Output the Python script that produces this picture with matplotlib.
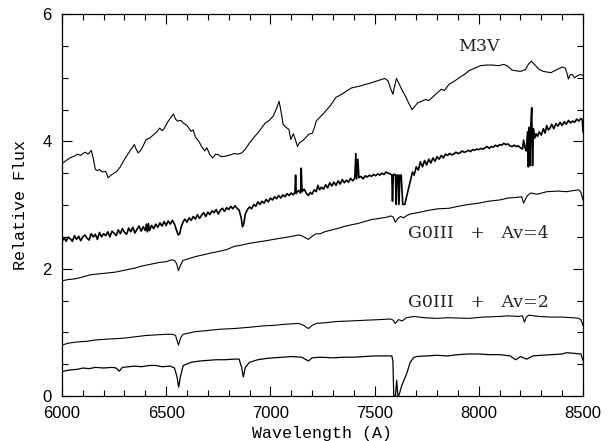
import matplotlib
matplotlib.use("Agg")
import matplotlib.pyplot as plt
from matplotlib.ticker import MultipleLocator

# ---- data ----
m3v_wl = [6000, 6020, 6038, 6060, 6075, 6090, 6100, 6113, 6125, 6141, 6152, 6160, 6170, 6180,
          6188, 6200, 6210, 6221, 6240, 6263, 6280, 6300, 6320, 6347, 6357, 6366, 6375, 6385,
          6404, 6420, 6441, 6455, 6469, 6480, 6488, 6510, 6535, 6545, 6554, 6570, 6582, 6600,
          6619, 6630, 6640, 6657, 6670, 6685, 6695, 6710, 6723, 6737, 6751, 6765, 6788, 6810,
          6826, 6845, 6863, 6880, 6901, 6920, 6939, 6960, 6976, 6995, 7014, 7030, 7042, 7055,
          7061, 7075, 7089, 7098, 7110, 7117, 7130, 7140, 7154, 7170, 7183, 7201, 7210, 7220,
          7258, 7290, 7314, 7342, 7370, 7389, 7430, 7483, 7520, 7549, 7565, 7577, 7588, 7595,
          7605, 7614, 7633, 7650, 7661, 7680, 7695, 7708, 7725, 7746, 7760, 7783, 7800, 7821,
          7835, 7858, 7880, 7915, 7935, 7952, 7980, 8008, 8040, 8065, 8095, 8121, 8140, 8160,
          8177, 8200, 8224, 8240, 8252, 8270, 8290, 8310, 8346, 8370, 8402, 8415, 8425, 8430,
          8440, 8449, 8460, 8468, 8485, 8500]
m3v_flux = [3.65, 3.70, 3.74, 3.77, 3.80, 3.78, 3.81, 3.83, 3.80, 3.86, 3.70, 3.56, 3.54, 3.56,
            3.53, 3.52, 3.53, 3.43, 3.48, 3.53, 3.60, 3.72, 3.82, 3.95, 3.87, 3.82, 3.85, 3.90,
            4.03, 4.05, 4.11, 4.15, 4.21, 4.17, 4.19, 4.32, 4.43, 4.35, 4.32, 4.33, 4.29, 4.25,
            4.16, 4.18, 4.07, 4.00, 3.92, 3.85, 3.90, 3.79, 3.74, 3.80, 3.79, 3.76, 3.77, 3.79,
            3.81, 3.80, 3.82, 3.88, 3.98, 4.06, 4.13, 4.22, 4.29, 4.33, 4.40, 4.52, 4.63, 4.40,
            4.27, 4.22, 4.19, 4.03, 4.12, 4.06, 3.92, 3.98, 4.01, 4.06, 4.11, 4.13, 4.20, 4.32,
            4.45, 4.57, 4.69, 4.74, 4.80, 4.84, 4.87, 4.92, 4.96, 4.99, 4.95, 4.83, 4.74, 4.85,
            4.99, 4.93, 4.80, 4.70, 4.62, 4.50, 4.56, 4.61, 4.63, 4.66, 4.64, 4.71, 4.76, 4.82,
            4.80, 4.90, 4.94, 5.02, 5.06, 5.11, 5.15, 5.19, 5.20, 5.20, 5.19, 5.21, 5.18, 5.12,
            5.11, 5.10, 5.13, 5.22, 5.26, 5.20, 5.13, 5.10, 5.08, 5.12, 5.17, 5.15, 5.05, 4.98,
            5.05, 5.05, 5.00, 5.02, 5.05, 5.04]

obs_wl = [6000, 6010, 6020, 6030, 6040, 6050, 6060, 6070, 6080, 6090, 6100, 6110, 6120, 6130,
          6140, 6150, 6160, 6170, 6180, 6190, 6200, 6210, 6220, 6230, 6240, 6250, 6260, 6270,
          6280, 6290, 6300, 6310, 6320, 6330, 6340, 6350, 6360, 6370, 6380, 6390, 6400, 6405,
          6410, 6415, 6420, 6430, 6440, 6450, 6460, 6470, 6480, 6490, 6500, 6510, 6520, 6530,
          6540, 6550, 6558, 6565, 6572, 6582, 6590, 6600, 6610, 6620, 6630, 6640, 6650, 6660,
          6670, 6680, 6690, 6700, 6710, 6720, 6730, 6740, 6750, 6760, 6770, 6780, 6790, 6800,
          6810, 6820, 6830, 6840, 6850, 6860, 6866, 6872, 6880, 6890, 6900, 6910, 6920, 6930,
          6940, 6950, 6960, 6970, 6980, 6990, 7000, 7010, 7020, 7030, 7040, 7050, 7060, 7070,
          7080, 7090, 7100, 7110, 7118, 7121, 7124, 7135, 7145, 7148, 7152, 7162, 7172, 7182,
          7192, 7200, 7210, 7220, 7228, 7236, 7245, 7255, 7265, 7275, 7285, 7295, 7305, 7315,
          7325, 7335, 7345, 7355, 7365, 7375, 7385, 7395, 7405, 7410, 7414, 7420, 7425, 7435,
          7445, 7455, 7465, 7475, 7485, 7495, 7505, 7515, 7525, 7535, 7545, 7555, 7565, 7575,
          7583, 7586, 7590, 7600, 7604, 7608, 7614, 7617, 7622, 7628, 7635, 7645, 7660, 7672,
          7682, 7690, 7700, 7710, 7720, 7730, 7740, 7750, 7760, 7770, 7780, 7790, 7800, 7810,
          7820, 7830, 7840, 7850, 7860, 7870, 7880, 7890, 7900, 7910, 7920, 7930, 7940, 7950,
          7960, 7970, 7980, 7990, 8000, 8010, 8020, 8030, 8040, 8050, 8060, 8070, 8080, 8090,
          8100, 8110, 8120, 8130, 8140, 8150, 8160, 8170, 8180, 8190, 8200, 8210, 8215, 8222,
          8228, 8234, 8238, 8242, 8246, 8250, 8254, 8258, 8262, 8268, 8275, 8282, 8290, 8300,
          8310, 8318, 8326, 8334, 8342, 8350, 8360, 8370, 8380, 8390, 8400, 8410, 8420, 8430,
          8440, 8450, 8460, 8470, 8480, 8490, 8497, 8500]
obs_flux = [2.42, 2.49, 2.43, 2.50, 2.47, 2.43, 2.52, 2.46, 2.51, 2.44, 2.50, 2.53, 2.48, 2.45,
            2.55, 2.50, 2.54, 2.46, 2.57, 2.50, 2.55, 2.52, 2.58, 2.50, 2.59, 2.56, 2.52, 2.61,
            2.55, 2.63, 2.57, 2.54, 2.64, 2.58, 2.65, 2.56, 2.62, 2.67, 2.59, 2.66, 2.60, 2.70,
            2.58, 2.71, 2.60, 2.68, 2.63, 2.70, 2.65, 2.72, 2.67, 2.74, 2.68, 2.75, 2.70, 2.76,
            2.70, 2.60, 2.53, 2.55, 2.66, 2.74, 2.78, 2.73, 2.80, 2.76, 2.82, 2.78, 2.85, 2.79,
            2.84, 2.88, 2.82, 2.89, 2.85, 2.91, 2.88, 2.93, 2.86, 2.92, 2.95, 2.90, 2.96, 2.93,
            2.98, 2.94, 2.99, 2.95, 2.92, 2.80, 2.66, 2.70, 2.86, 2.93, 2.97, 2.94, 3.01, 2.98,
            3.05, 3.01, 3.06, 3.03, 3.09, 3.05, 3.11, 3.08, 3.13, 3.10, 3.15, 3.11, 3.16, 3.13,
            3.18, 3.15, 3.19, 3.16, 3.20, 3.47, 3.18, 3.23, 3.19, 3.58, 3.21, 3.25, 3.19, 3.15,
            3.20, 3.17, 3.24, 3.21, 3.31, 3.24, 3.28, 3.25, 3.32, 3.27, 3.35, 3.30, 3.36, 3.31,
            3.38, 3.33, 3.40, 3.35, 3.39, 3.36, 3.42, 3.38, 3.42, 3.81, 3.41, 3.72, 3.43, 3.45,
            3.41, 3.46, 3.44, 3.47, 3.45, 3.48, 3.46, 3.49, 3.47, 3.50, 3.48, 3.52, 3.50, 3.49,
            3.47, 3.06, 3.48, 3.48, 3.01, 3.47, 3.47, 3.01, 3.47, 3.47, 3.01, 3.01, 3.22, 3.38,
            3.52, 3.47, 3.60, 3.55, 3.68, 3.60, 3.70, 3.63, 3.72, 3.66, 3.74, 3.69, 3.76, 3.72,
            3.78, 3.74, 3.80, 3.78, 3.81, 3.79, 3.80, 3.83, 3.81, 3.82, 3.85, 3.83, 3.84, 3.86,
            3.84, 3.87, 3.86, 3.88, 3.87, 3.89, 3.88, 3.90, 3.92, 3.89, 3.92, 3.91, 3.94, 3.92,
            3.95, 3.94, 3.97, 3.95, 3.96, 3.93, 3.92, 3.94, 3.92, 3.93, 3.90, 3.88, 4.02, 3.90,
            3.85, 4.15, 3.60, 4.22, 3.62, 4.28, 4.53, 3.62, 4.20, 4.05, 4.12, 4.08, 4.15, 4.10,
            4.20, 4.13, 4.25, 4.18, 4.21, 4.27, 4.20, 4.28, 4.24, 4.30, 4.25, 4.31, 4.27, 4.33,
            4.29, 4.32, 4.30, 4.35, 4.32, 4.36, 4.34, 4.15]

av4_wl = [6000, 6030, 6060, 6075, 6100, 6130, 6150, 6180, 6210, 6240, 6263, 6290, 6320, 6350,
          6380, 6410, 6440, 6470, 6500, 6526, 6540, 6550, 6559, 6568, 6580, 6610, 6640, 6680,
          6720, 6750, 6790, 6826, 6860, 6900, 6940, 6980, 7014, 7050, 7090, 7120, 7136, 7150,
          7165, 7183, 7200, 7220, 7240, 7260, 7295, 7320, 7350, 7389, 7420, 7450, 7483, 7520,
          7560, 7577, 7590, 7599, 7610, 7624, 7640, 7652, 7670, 7689, 7720, 7764, 7800, 7858,
          7900, 7952, 8000, 8046, 8100, 8140, 8180, 8206, 8215, 8225, 8234, 8250, 8280, 8327,
          8380, 8421, 8460, 8480, 8490, 8500]
av4_flux = [1.81, 1.83, 1.84, 1.85, 1.87, 1.90, 1.91, 1.92, 1.93, 1.94, 1.95, 1.97, 1.99, 2.01,
            2.04, 2.06, 2.08, 2.10, 2.11, 2.14, 2.13, 2.08, 1.97, 2.05, 2.13, 2.16, 2.19, 2.22,
            2.25, 2.27, 2.30, 2.35, 2.37, 2.40, 2.42, 2.44, 2.46, 2.48, 2.50, 2.52, 2.53, 2.52,
            2.49, 2.46, 2.51, 2.55, 2.55, 2.58, 2.61, 2.63, 2.66, 2.69, 2.71, 2.74, 2.77, 2.79,
            2.81, 2.83, 2.81, 2.73, 2.78, 2.82, 2.80, 2.83, 2.86, 2.87, 2.89, 2.92, 2.94, 2.95,
            2.98, 3.01, 3.03, 3.06, 3.08, 3.11, 3.12, 3.13, 3.03, 3.10, 3.15, 3.19, 3.17, 3.21,
            3.22, 3.21, 3.23, 3.24, 3.20, 3.08]

av2_wl = [6000, 6030, 6075, 6120, 6160, 6200, 6250, 6300, 6350, 6400, 6450, 6500, 6530, 6545,
          6559, 6570, 6582, 6638, 6700, 6760, 6826, 6900, 6960, 7014, 7080, 7136, 7160, 7183,
          7201, 7220, 7260, 7314, 7389, 7450, 7520, 7577, 7590, 7599, 7615, 7633, 7652, 7689,
          7740, 7800, 7850, 7952, 8020, 8100, 8140, 8190, 8210, 8219, 8228, 8240, 8290, 8346,
          8400, 8450, 8480, 8490, 8500]
av2_flux = [0.80, 0.83, 0.85, 0.86, 0.88, 0.89, 0.90, 0.91, 0.93, 0.95, 0.96, 0.97, 0.97, 0.95,
            0.80, 0.92, 0.97, 1.01, 1.03, 1.05, 1.06, 1.08, 1.10, 1.11, 1.13, 1.14, 1.11, 1.06,
            1.11, 1.14, 1.15, 1.17, 1.18, 1.19, 1.20, 1.21, 1.19, 1.14, 1.20, 1.18, 1.23, 1.25,
            1.23, 1.22, 1.23, 1.22, 1.24, 1.25, 1.26, 1.25, 1.26, 1.16, 1.24, 1.27, 1.25, 1.24,
            1.24, 1.23, 1.22, 1.20, 1.11]

g0_wl = [6000, 6020, 6040, 6075, 6100, 6130, 6160, 6200, 6240, 6260, 6275, 6290, 6320, 6350,
         6380, 6420, 6450, 6480, 6520, 6540, 6552, 6560, 6568, 6582, 6620, 6660, 6700, 6740,
         6780, 6826, 6850, 6862, 6870, 6880, 6900, 6940, 6980, 7014, 7060, 7100, 7150, 7183,
         7200, 7240, 7300, 7350, 7400, 7450, 7500, 7549, 7583, 7588, 7592, 7600, 7606, 7612,
         7618, 7630, 7645, 7654, 7670, 7686, 7700, 7750, 7800, 7850, 7900, 7952, 8000, 8050,
         8100, 8150, 8177, 8200, 8230, 8260, 8300, 8350, 8400, 8421, 8460, 8490, 8500]
g0_flux = [0.38, 0.40, 0.41, 0.42, 0.44, 0.43, 0.45, 0.44, 0.45, 0.44, 0.39, 0.45, 0.46, 0.47,
           0.46, 0.48, 0.48, 0.46, 0.47, 0.44, 0.30, 0.14, 0.30, 0.48, 0.53, 0.55, 0.56, 0.57,
           0.57, 0.58, 0.58, 0.45, 0.30, 0.45, 0.53, 0.57, 0.59, 0.60, 0.61, 0.62, 0.61, 0.55,
           0.60, 0.61, 0.60, 0.61, 0.61, 0.62, 0.63, 0.63, 0.63, 0.55, 0.00, 0.00, 0.25, 0.00,
           0.02, 0.16, 0.28, 0.35, 0.52, 0.60, 0.62, 0.63, 0.64, 0.63, 0.65, 0.66, 0.66, 0.65,
           0.65, 0.63, 0.57, 0.62, 0.58, 0.63, 0.64, 0.65, 0.66, 0.68, 0.67, 0.66, 0.56]

labels = ["M3V", "G0III   +   Av=4", "G0III   +   Av=2"]
label_pos = [(8000, 5.49), (8000, 2.56), (8000, 1.47)]

# ---- plot ----
fig = plt.figure(figsize=(6.13, 4.41), dpi=100)
ax = fig.add_axes([0.1011, 0.102, 0.8499, 0.866])

ax.plot(m3v_wl, m3v_flux, color="black", lw=0.8)
ax.plot(obs_wl, obs_flux, color="black", lw=1.2)
ax.plot(av4_wl, av4_flux, color="black", lw=0.8)
ax.plot(av2_wl, av2_flux, color="black", lw=0.8)
ax.plot(g0_wl, g0_flux, color="black", lw=0.9)

for txt, (x, y) in zip(labels, label_pos):
    ax.text(x, y, txt, ha="center", va="center", fontsize=12.5,
            family="DejaVu Serif", color="#222222")

ax.set_xlim(6000, 8500)
ax.set_ylim(0, 6)
ax.xaxis.set_major_locator(MultipleLocator(500))
ax.xaxis.set_minor_locator(MultipleLocator(100))
ax.yaxis.set_major_locator(MultipleLocator(2))
ax.yaxis.set_minor_locator(MultipleLocator(0.5))
ax.tick_params(which="both", direction="in", top=True, right=True, width=0.8)
ax.tick_params(which="major", length=7, pad=7.5, labelsize=12)
ax.tick_params(which="minor", length=4.5)
for lab in ax.get_xticklabels() + ax.get_yticklabels():
    lab.set_family("Liberation Sans")
for s in ax.spines.values():
    s.set_linewidth(0.9)

ax.set_xlabel("Wavelength (A)", family="Liberation Mono", fontsize=12, labelpad=3)
ax.set_ylabel("Relative Flux", family="Liberation Mono", fontsize=12, labelpad=10)

fig.savefig("out.png", dpi=100)
